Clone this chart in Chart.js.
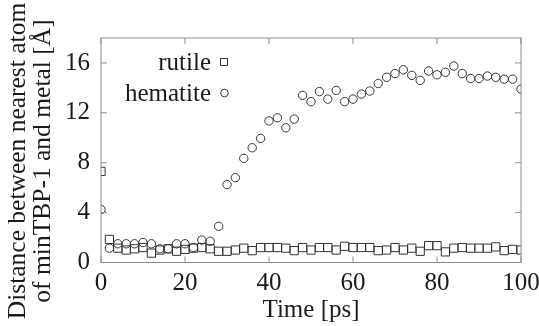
<!DOCTYPE html>
<html lang="en">
<head>
    <meta charset="UTF-8">
    <title>Distance vs time</title>
    <script src="https://cdn.jsdelivr.net/npm/chart.js"></script>
    <style>
        html, body { margin: 0; padding: 0; background: #fff; }
        .chart-container { width: 539px; height: 326px; }
    </style>
</head>
<body>
<div class="chart-container">
    <canvas id="distChart"></canvas>
</div>

<script>
    // Time axis (ps)
    const timePs = [0, 2, 4, 6, 8, 10, 12, 14, 16, 18, 20, 22, 24, 26, 28, 30, 32, 34, 36, 38, 40,
        42, 44, 46, 48, 50, 52, 54, 56, 58, 60, 62, 64, 66, 68, 70, 72, 74, 76, 78, 80,
        82, 84, 86, 88, 90, 92, 94, 96, 98, 100];

    // Distance (Angstrom)
    const rutile = [7.3, 1.85, 1.15, 1.0, 1.1, 1.2, 0.75, 1.0, 1.1, 0.9, 1.05, 1.15, 1.2, 1.1, 0.9, 0.9, 1.0, 1.15, 0.95, 1.2, 1.2,
        1.2, 1.15, 0.95, 1.2, 1.0, 1.2, 1.2, 1.0, 1.3, 1.2, 1.2, 1.2, 0.95, 1.0, 1.2, 1.0, 1.15, 0.9, 1.35, 1.35,
        0.85, 1.15, 1.2, 1.15, 1.15, 1.15, 1.25, 0.95, 1.05, 1.0];
    const hematite = [4.25, 1.15, 1.5, 1.5, 1.5, 1.6, 1.5, 1.1, 1.1, 1.5, 1.5, 1.2, 1.8, 1.7, 2.9, 6.25, 6.8, 8.35, 9.2, 9.95, 11.35,
        11.6, 10.8, 11.5, 13.4, 12.9, 13.7, 13.1, 13.8, 12.9, 13.1, 13.5, 13.75, 14.35, 14.85, 15.15, 15.45, 15.0, 14.6, 15.35, 15.05,
        15.25, 15.75, 15.15, 14.75, 14.75, 14.95, 14.85, 14.7, 14.7, 13.9];

    const xTicks = [0, 20, 40, 60, 80, 100];
    const yTicks = [0, 4, 8, 12, 16];
    const yTitle = ['Distance between nearest atom', 'of minTBP-1 and metal [Å]'];

    const FONT = "'Liberation Serif', 'Times New Roman', serif";
    const INK = '#1a1a1a';
    const FRAME = '#8c8c8c';

    // frame with inward ticks on all four sides
    const framePlugin = {
        id: 'frame',
        afterDatasetsDraw(chart) {
            const {ctx, chartArea: a, scales: {x, y}} = chart;
            const len = 6;
            ctx.save();
            ctx.strokeStyle = FRAME;
            ctx.lineWidth = 1;
            ctx.strokeRect(a.left, a.top, a.right - a.left, a.bottom - a.top);
            ctx.beginPath();
            xTicks.forEach(v => {
                const px = x.getPixelForValue(v);
                ctx.moveTo(px, a.bottom); ctx.lineTo(px, a.bottom - len);
                ctx.moveTo(px, a.top); ctx.lineTo(px, a.top + len);
            });
            yTicks.forEach(v => {
                const py = y.getPixelForValue(v);
                ctx.moveTo(a.left, py); ctx.lineTo(a.left + len, py);
                ctx.moveTo(a.right, py); ctx.lineTo(a.right - len, py);
            });
            ctx.stroke();
            ctx.restore();
        }
    };

    // y title (two lines) and the key box
    const textPlugin = {
        id: 'texts',
        afterDraw(chart) {
            const ctx = chart.ctx;
            ctx.save();
            ctx.fillStyle = INK;
            ctx.font = '25.5px ' + FONT;
            ctx.textAlign = 'center';
            ctx.textBaseline = 'middle';
            yTitle.forEach((line, i) => {
                ctx.save();
                ctx.translate(18 + i * 25, 161);
                ctx.rotate(-Math.PI / 2);
                ctx.fillText(line, 0, 0);
                ctx.restore();
            });

            const rows = [
                {label: 'rutile', style: 'rect', y: 62},
                {label: 'hematite', style: 'circle', y: 93}
            ];
            ctx.font = '25px ' + FONT;
            ctx.textAlign = 'right';
            rows.forEach(r => {
                ctx.fillText(r.label, 211, r.y + 1);
                ctx.strokeStyle = '#333';
                ctx.lineWidth = 1;
                ctx.beginPath();
                if (r.style === 'rect') ctx.rect(220.5, r.y - 3.5, 7, 7);
                else ctx.arc(224.5, r.y, 3.8, 0, Math.PI * 2);
                ctx.stroke();
            });
            ctx.restore();
        }
    };

    new Chart(document.getElementById('distChart'), {
        type: 'scatter',
        data: {
            datasets: [{
                label: 'rutile',
                data: timePs.map((t, i) => ({x: t, y: rutile[i]})),
                pointStyle: 'rect',
                pointRadius: 5.8,
                borderColor: '#333',
                borderWidth: 1,
                backgroundColor: 'rgba(0,0,0,0)'
            }, {
                label: 'hematite',
                data: timePs.map((t, i) => ({x: t, y: hematite[i]})),
                pointStyle: 'circle',
                pointRadius: 4.2,
                borderColor: '#333',
                borderWidth: 1,
                backgroundColor: 'rgba(0,0,0,0)'
            }]
        },
        options: {
            responsive: true,
            maintainAspectRatio: false,
            animation: false,
            layout: {padding: {top: 38, right: 18, left: 0, bottom: 0}},
            plugins: {legend: {display: false}, tooltip: {enabled: false}},
            scales: {
                x: {
                    type: 'linear',
                    min: 0, max: 100,
                    grid: {display: false, drawTicks: false},
                    border: {display: false},
                    ticks: {stepSize: 20, padding: 6, color: INK, maxRotation: 0, font: {family: FONT, size: 25}},
                    title: {display: true, text: 'Time [ps]', color: INK, padding: {top: 0, bottom: 1}, font: {family: FONT, size: 25}},
                    afterFit: s => { s.height = 63.5; s.paddingLeft = 0; s.paddingRight = 0; }
                },
                y: {
                    min: 0, max: 18,
                    grid: {display: false, drawTicks: false},
                    border: {display: false},
                    ticks: {stepSize: 4, includeBounds: false, padding: 11, color: INK, font: {family: FONT, size: 25}},
                    afterFit: s => { s.width = 101; s.paddingTop = 0; s.paddingBottom = 0; }
                }
            }
        },
        plugins: [framePlugin, textPlugin]
    });
</script>
</body>
</html>
